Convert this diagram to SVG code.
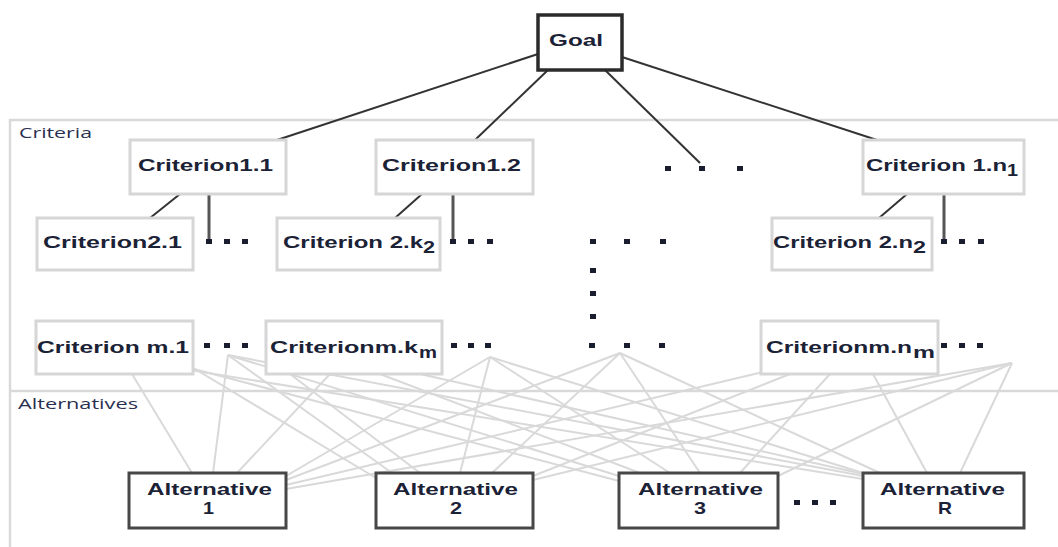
<svg xmlns="http://www.w3.org/2000/svg" width="1058" height="547" viewBox="0 0 1058 547">
  <style>
    .lbl { font-family: "Liberation Sans", Arial, sans-serif; font-weight: bold; font-size: 17px; fill: #1b2236; }
    .sec { font-family: "Open Sans", "Liberation Sans", sans-serif; font-size: 14px; fill: #2a3050; }
    .crit { fill: #ffffff; stroke: #d6d6d6; stroke-width: 3; }
    .alt { fill: #ffffff; stroke: #474747; stroke-width: 3; }
    .goal { fill: #ffffff; stroke: #2b2b2b; stroke-width: 3.5; }
    .panel { stroke: #d9d9d9; stroke-width: 2.5; fill: none; }
    .dark { stroke: #333333; stroke-width: 2; fill: none; }
    .stem { stroke: #555555; stroke-width: 3; fill: none; }
    .soft { stroke: #d9d9d9; stroke-width: 2; fill: none; }
    .dot { fill: #1a1d2e; }
  </style>

  <!-- section frame -->
  <g id="frame">
    <path class="panel" d="M10 547 V120 H1058 M10 391 H1058"/>
    <text class="sec" x="19" y="138" textLength="73" lengthAdjust="spacingAndGlyphs">Criteria</text>
    <text class="sec" x="18" y="409" textLength="120" lengthAdjust="spacingAndGlyphs">Alternatives</text>
  </g>

  <g id="connectors">
    <!-- lowest criteria level to alternatives -->
    <g class="soft">
      <!-- Alternative 1 -->
      <line x1="132" y1="374" x2="192" y2="473"/>
      <line x1="228" y1="355" x2="213" y2="473"/>
      <line x1="330" y1="374" x2="237" y2="473"/>
      <line x1="490" y1="357" x2="286" y2="476"/>
      <line x1="620" y1="353" x2="286" y2="480"/>
      <line x1="763" y1="372" x2="286" y2="485"/>
      <line x1="1012" y1="363" x2="286" y2="489"/>
      <!-- Alternative 2 -->
      <line x1="190" y1="366" x2="376" y2="478"/>
      <line x1="228" y1="355" x2="392" y2="473"/>
      <line x1="290" y1="374" x2="420" y2="473"/>
      <line x1="490" y1="357" x2="460" y2="473"/>
      <line x1="620" y1="353" x2="492" y2="473"/>
      <line x1="790" y1="374" x2="533" y2="476"/>
      <line x1="1012" y1="363" x2="533" y2="480"/>
      <!-- Alternative 3 -->
      <line x1="190" y1="368" x2="619" y2="481"/>
      <line x1="228" y1="355" x2="619" y2="476"/>
      <line x1="380" y1="374" x2="640" y2="473"/>
      <line x1="490" y1="357" x2="670" y2="473"/>
      <line x1="620" y1="353" x2="700" y2="473"/>
      <line x1="830" y1="374" x2="740" y2="473"/>
      <line x1="1012" y1="363" x2="778" y2="476"/>
      <!-- Alternative R -->
      <line x1="190" y1="370" x2="863" y2="479"/>
      <line x1="228" y1="355" x2="863" y2="476"/>
      <line x1="420" y1="374" x2="863" y2="474"/>
      <line x1="490" y1="357" x2="863" y2="473"/>
      <line x1="620" y1="353" x2="880" y2="473"/>
      <line x1="873" y1="374" x2="927" y2="473"/>
      <line x1="1012" y1="363" x2="960" y2="473"/>
    </g>
    <!-- goal to first level -->
    <g class="dark">
      <line x1="538" y1="54" x2="277" y2="140"/>
      <line x1="548" y1="70" x2="475" y2="140"/>
      <line x1="605" y1="70" x2="700" y2="163"/>
      <line x1="622" y1="57" x2="877" y2="140"/>
      <!-- first level to second level -->
      <line x1="180" y1="194" x2="150" y2="218"/>
      <line x1="422" y1="194" x2="395" y2="218"/>
      <line x1="907" y1="194" x2="879" y2="218"/>
    </g>
    <g class="stem">
      <line x1="209" y1="194" x2="209" y2="240"/>
      <line x1="453" y1="194" x2="453" y2="240"/>
      <line x1="944" y1="194" x2="944" y2="240"/>
    </g>
  </g>

  <!-- ellipsis markers -->
  <g id="ellipses" class="dot">
    <rect x="665" y="166" width="6" height="5"/>
    <rect x="699" y="166" width="6" height="5"/>
    <rect x="737" y="166" width="6" height="5"/>

    <rect x="206" y="239" width="6" height="5"/>
    <rect x="224" y="239" width="6" height="5"/>
    <rect x="242" y="239" width="6" height="5"/>
    <rect x="450" y="239" width="6" height="5"/>
    <rect x="468" y="239" width="6" height="5"/>
    <rect x="487" y="239" width="6" height="5"/>
    <rect x="590" y="239" width="6" height="5"/>
    <rect x="624" y="239" width="6" height="5"/>
    <rect x="660" y="239" width="6" height="5"/>
    <rect x="941" y="239" width="6" height="5"/>
    <rect x="959" y="239" width="6" height="5"/>
    <rect x="978" y="239" width="6" height="5"/>

    <rect x="590" y="268" width="6" height="5"/>
    <rect x="590" y="291" width="6" height="5"/>
    <rect x="590" y="314" width="6" height="5"/>

    <rect x="204" y="343" width="6" height="5"/>
    <rect x="224" y="343" width="6" height="5"/>
    <rect x="242" y="343" width="6" height="5"/>
    <rect x="451" y="343" width="6" height="5"/>
    <rect x="468" y="343" width="6" height="5"/>
    <rect x="485" y="343" width="6" height="5"/>
    <rect x="589" y="343" width="6" height="5"/>
    <rect x="624" y="343" width="6" height="5"/>
    <rect x="659" y="343" width="6" height="5"/>
    <rect x="941" y="343" width="6" height="5"/>
    <rect x="959" y="343" width="6" height="5"/>
    <rect x="977" y="343" width="6" height="5"/>

    <rect x="794" y="500" width="6" height="5"/>
    <rect x="812" y="500" width="6" height="5"/>
    <rect x="830" y="500" width="6" height="5"/>
  </g>

  <g id="goal">
    <rect class="goal" x="538" y="15" width="84" height="55"/>
    <text class="lbl" x="549" y="46" textLength="54" lengthAdjust="spacingAndGlyphs">Goal</text>
  </g>

  <g id="criterion-1-1">
    <rect class="crit" x="130" y="140" width="156" height="54"/>
    <text class="lbl" x="138" y="171" textLength="135" lengthAdjust="spacingAndGlyphs">Criterion1.1</text>
  </g>
  <g id="criterion-1-2">
    <rect class="crit" x="376" y="140" width="157" height="54"/>
    <text class="lbl" x="382" y="171" textLength="139" lengthAdjust="spacingAndGlyphs">Criterion1.2</text>
  </g>
  <g id="criterion-1-n1">
    <rect class="crit" x="863" y="140" width="161" height="54"/>
    <text class="lbl" x="866" y="171" textLength="141" lengthAdjust="spacingAndGlyphs">Criterion 1.n</text>
    <text class="lbl" x="1007" y="176" textLength="11" lengthAdjust="spacingAndGlyphs">1</text>
  </g>

  <g id="criterion-2-1">
    <rect class="crit" x="37" y="218" width="156" height="52"/>
    <text class="lbl" x="43" y="248" textLength="139" lengthAdjust="spacingAndGlyphs">Criterion2.1</text>
  </g>
  <g id="criterion-2-k2">
    <rect class="crit" x="277" y="218" width="163" height="52"/>
    <text class="lbl" x="283" y="248" textLength="140" lengthAdjust="spacingAndGlyphs">Criterion 2.k</text>
    <text class="lbl" x="423" y="253" textLength="12" lengthAdjust="spacingAndGlyphs">2</text>
  </g>
  <g id="criterion-2-n2">
    <rect class="crit" x="772" y="218" width="160" height="52"/>
    <text class="lbl" x="773" y="248" textLength="140" lengthAdjust="spacingAndGlyphs">Criterion 2.n</text>
    <text class="lbl" x="913" y="253" textLength="13" lengthAdjust="spacingAndGlyphs">2</text>
  </g>

  <g id="criterion-m-1">
    <rect class="crit" x="36" y="321" width="157" height="53"/>
    <text class="lbl" x="37" y="353" textLength="152" lengthAdjust="spacingAndGlyphs">Criterion m.1</text>
  </g>
  <g id="criterion-m-km">
    <rect class="crit" x="266" y="321" width="176" height="53"/>
    <text class="lbl" x="270" y="353" textLength="148" lengthAdjust="spacingAndGlyphs">Criterionm.k</text>
    <text class="lbl" x="419" y="358" textLength="18" lengthAdjust="spacingAndGlyphs">m</text>
  </g>
  <g id="criterion-m-nm">
    <rect class="crit" x="761" y="321" width="177" height="53"/>
    <text class="lbl" x="766" y="353" textLength="146" lengthAdjust="spacingAndGlyphs">Criterionm.n</text>
    <text class="lbl" x="913" y="358" textLength="22" lengthAdjust="spacingAndGlyphs">m</text>
  </g>

  <g id="alternative-1">
    <rect class="alt" x="129" y="473" width="157" height="55"/>
    <text class="lbl" x="147" y="495" textLength="125" lengthAdjust="spacingAndGlyphs">Alternative</text>
    <text class="lbl" x="203" y="514" textLength="11" lengthAdjust="spacingAndGlyphs">1</text>
  </g>
  <g id="alternative-2">
    <rect class="alt" x="376" y="473" width="157" height="55"/>
    <text class="lbl" x="393" y="495" textLength="125" lengthAdjust="spacingAndGlyphs">Alternative</text>
    <text class="lbl" x="450" y="514" textLength="12" lengthAdjust="spacingAndGlyphs">2</text>
  </g>
  <g id="alternative-3">
    <rect class="alt" x="619" y="473" width="159" height="55"/>
    <text class="lbl" x="638" y="495" textLength="125" lengthAdjust="spacingAndGlyphs">Alternative</text>
    <text class="lbl" x="694" y="514" textLength="12" lengthAdjust="spacingAndGlyphs">3</text>
  </g>
  <g id="alternative-r">
    <rect class="alt" x="863" y="473" width="161" height="55"/>
    <text class="lbl" x="880" y="495" textLength="125" lengthAdjust="spacingAndGlyphs">Alternative</text>
    <text class="lbl" x="938" y="514" textLength="14" lengthAdjust="spacingAndGlyphs">R</text>
  </g>
</svg>
